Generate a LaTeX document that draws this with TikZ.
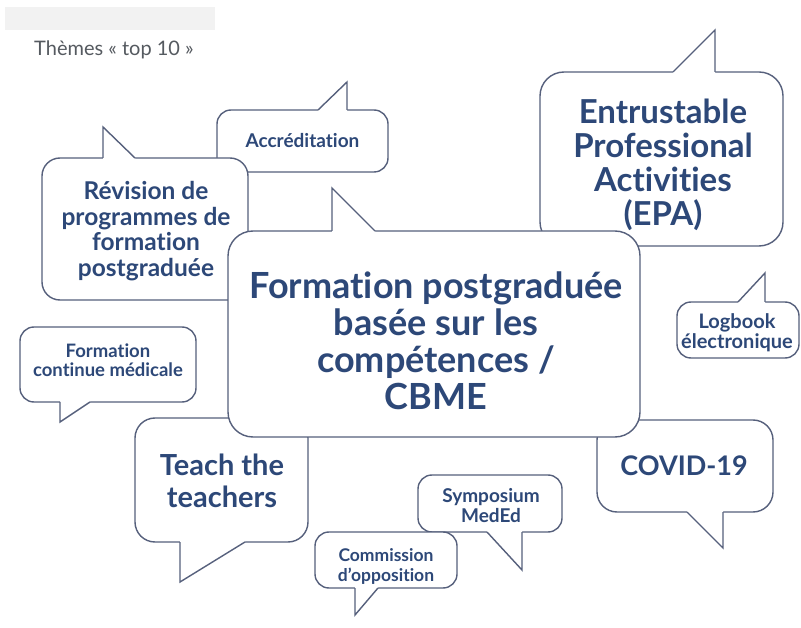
\documentclass[tikz,border=0pt]{standalone}
\usepackage{fontspec}
\setmainfont{Lato}[Ligatures={NoCommon}]
\definecolor{txt}{HTML}{2D4878}
\definecolor{edge}{HTML}{56607C}
\definecolor{graytxt}{HTML}{555A60}
\tikzset{
  bub/.style={draw=edge, line width=1.4pt, fill=white, rounded corners=#1, inner sep=0pt},
  bub/.default=14pt,
  tailline/.style={draw=edge, line width=1.4pt},
  fs/.style 2 args={inner sep=0pt, align=center, text=txt, font=\bfseries\fontsize{#1}{#2}\selectfont}
}
% tail: base1 (x,y), apex, base2, inward offset
\newcommand{\bubtail}[7]{%
  \fill[white] ({#1},{#2+(#7)}) -- ({#1},{#2}) -- ({#3},{#4}) -- ({#5},{#6}) -- ({#5},{#6+(#7)}) -- cycle;
  \draw[tailline] ({#1},{#2}) -- ({#3},{#4}) -- ({#5},{#6});
}
\begin{document}
\begin{tikzpicture}[x=1pt,y=-1pt]
\useasboundingbox (0,0) rectangle (801,628);
\fill[white] (0,0) rectangle (801,628);
\fill[black!5] (5,7) rectangle (215,30);
\node[anchor=west, text=graytxt, font=\fontsize{20}{24}\selectfont, inner sep=0pt] (titre) at (34,50) {Thèmes « top 10 »};

% Accreditation
\node[bub, minimum width=171pt, minimum height=62pt] (accr) at (302.5,141) {};
\bubtail{318}{110}{347}{82}{347}{110}{1.5}
\node[fs={19}{20}] (accr-t) at (302.5,141) {Accréditation};

% Revision
\node[bub=18pt, minimum width=206pt, minimum height=142pt] (rev) at (145,229) {};
\bubtail{103}{158}{103}{127}{135}{158}{1.5}
\node[fs={24.5}{25.5}] (rev-t) at (146,231) {Révision de\\programmes de\\formation\\postgraduée};

% EPA
\node[bub=24pt, minimum width=243pt, minimum height=174pt] (epa) at (661.5,159) {};
\bubtail{673}{72}{715}{30}{715}{72}{1.5}
\node[fs={33}{34}] (epa-t) at (663,165) {Entrustable\\Professional\\Activities\\(EPA)};

% Logbook
\node[bub, minimum width=122pt, minimum height=56pt] (log) at (738,330) {};
\bubtail{738}{302}{765}{273}{765}{302}{1.5}
\node[fs={20}{20}] (log-t) at (737,332.5) {Logbook\\électronique};

% Formation continue
\node[bub, minimum width=176pt, minimum height=75pt] (fcm) at (108,364.5) {};
\bubtail{60}{402}{60}{422}{90}{402}{-1.5}
\node[fs={18.5}{19.5}] (fcm-t) at (108,360) {Formation\\continue médicale};

% Teach the teachers
\node[bub=20pt, minimum width=173pt, minimum height=124pt] (teach) at (221.5,480) {};
\bubtail{180}{542}{180}{582}{245}{542}{-1.5}
\node[fs={29}{32}] (teach-t) at (222,481) {Teach the\\teachers};

% COVID
\node[bub=20pt, minimum width=176pt, minimum height=92pt] (covid) at (685,466) {};
\bubtail{687}{512}{723}{548}{723}{512}{-1.5}
\node[fs={27}{32}] (covid-t) at (684,466) {COVID-19};

% Symposium
\node[bub, minimum width=144pt, minimum height=57pt] (symp) at (490,503.5) {};
\bubtail{487}{532}{522}{570}{522}{532}{-1.5}
\node[fs={19}{20}] (symp-t) at (491,506) {Symposium\\MedEd};

% Commission
\node[bub, minimum width=142pt, minimum height=56pt] (comm) at (386,560) {};
\bubtail{355}{588}{355}{615}{378}{588}{-1.5}
\node[fs={17.5}{20}] (comm-t) at (386,566) {Commission\\d’opposition};

% Central
\node[bub=25pt, minimum width=412pt, minimum height=206pt] (cbme) at (434,334) {};
\bubtail{332}{231}{332}{188}{375}{231}{1.5}
\node[fs={36}{37}] (cbme-t) at (436,341) {Formation postgraduée\\basée sur les\\compétences /\\CBME};
\end{tikzpicture}
\end{document}
